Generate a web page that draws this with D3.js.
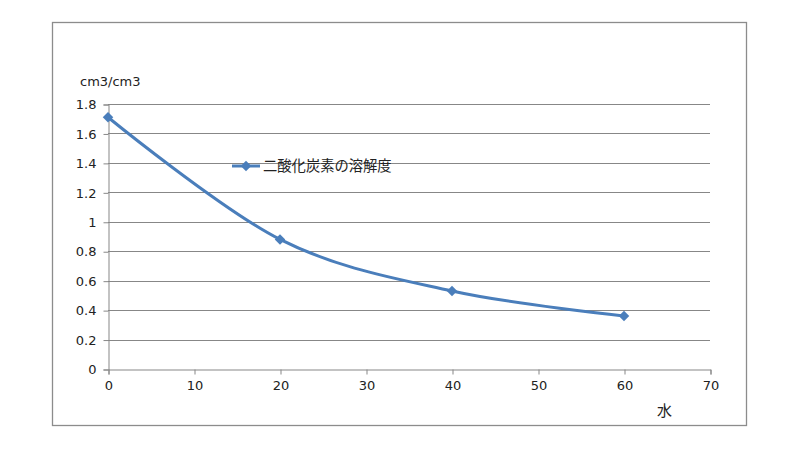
<!DOCTYPE html>
<html><head><meta charset="utf-8">
<script src="https://cdn.jsdelivr.net/npm/d3@7"></script>
<style>body{margin:0;background:#fff}text{font-family:"Noto Sans CJK JP","DejaVu Sans",sans-serif}</style>
</head><body><svg id="c" width="800" height="450"></svg>
<script>
const temps = [0, 20, 40, 60];
const solubility = [1.71, 0.88, 0.53, 0.36];
const xTicks = [0, 10, 20, 30, 40, 50, 60, 70];
const yTicks = [0, 0.2, 0.4, 0.6, 0.8, 1, 1.2, 1.4, 1.6, 1.8];
const seriesName = "二酸化炭素の溶解度";
const xTitle = "水";
const yTitle = "cm3/cm3";

const svg = d3.select("#c");
svg.append("rect").attr("x",52.5).attr("y",22.5).attr("width",694).attr("height",403)
  .attr("fill","#fff").attr("stroke","#8c8c8c").attr("stroke-width",1.3);

const x = d3.scaleLinear().domain([0,70]).range([108,710]);
const y = d3.scaleLinear().domain([0,1.8]).range([369,104]);
const grid = "#878787";

svg.append("g").selectAll("line").data(yTicks.filter(d=>d>0)).join("line")
  .attr("x1",x(0)).attr("x2",x(70)).attr("y1",d=>Math.round(y(d))+0.5).attr("y2",d=>Math.round(y(d))+0.5)
  .attr("stroke",grid).attr("stroke-width",1);

const ya = svg.append("g").attr("transform",`translate(${x(0)+0.5},0.5)`)
  .call(d3.axisLeft(y).tickValues(yTicks).tickSize(5).tickPadding(7).tickFormat(d3.format("~g")));
const xa = svg.append("g").attr("transform",`translate(0.5,${Math.round(y(0))+0.5})`)
  .call(d3.axisBottom(x).tickValues(xTicks).tickSize(5).tickPadding(6));
[ya,xa].forEach(a=>{
  a.select(".domain").attr("stroke",grid);
  a.selectAll(".tick line").attr("stroke",grid);
  a.selectAll("text").attr("fill","#222").style("font-size","13px").style("font-family","'DejaVu Sans',sans-serif");
});

const pts = temps.map((t,i)=>[x(t),y(solubility[i])]);
const blue = "#4a7ebb";
svg.append("path").attr("d",d3.line().curve(d3.curveCatmullRom.alpha(0))(pts))
  .attr("fill","none").attr("stroke",blue).attr("stroke-width",3);
const diamond = d3.symbol().type(d3.symbolDiamond2).size(70);
svg.append("g").selectAll("path").data(pts).join("path")
  .attr("transform",d=>`translate(${d[0]},${d[1]})`).attr("d",diamond).attr("fill",blue);

// legend
svg.append("line").attr("x1",232).attr("x2",260).attr("y1",166).attr("y2",166).attr("stroke",blue).attr("stroke-width",3);
svg.append("path").attr("transform","translate(246,166)").attr("d",diamond).attr("fill",blue);
svg.append("text").attr("x",263).attr("y",171).text(seriesName).style("font-size","14.3px").attr("fill","#222");

svg.append("text").attr("x",80).attr("y",86).text(yTitle).style("font-size","13px").style("font-family","'DejaVu Sans',sans-serif").attr("fill","#222");
svg.append("text").attr("x",657).attr("y",416).text(xTitle).style("font-size","15px").attr("fill","#222");
</script></body></html>
